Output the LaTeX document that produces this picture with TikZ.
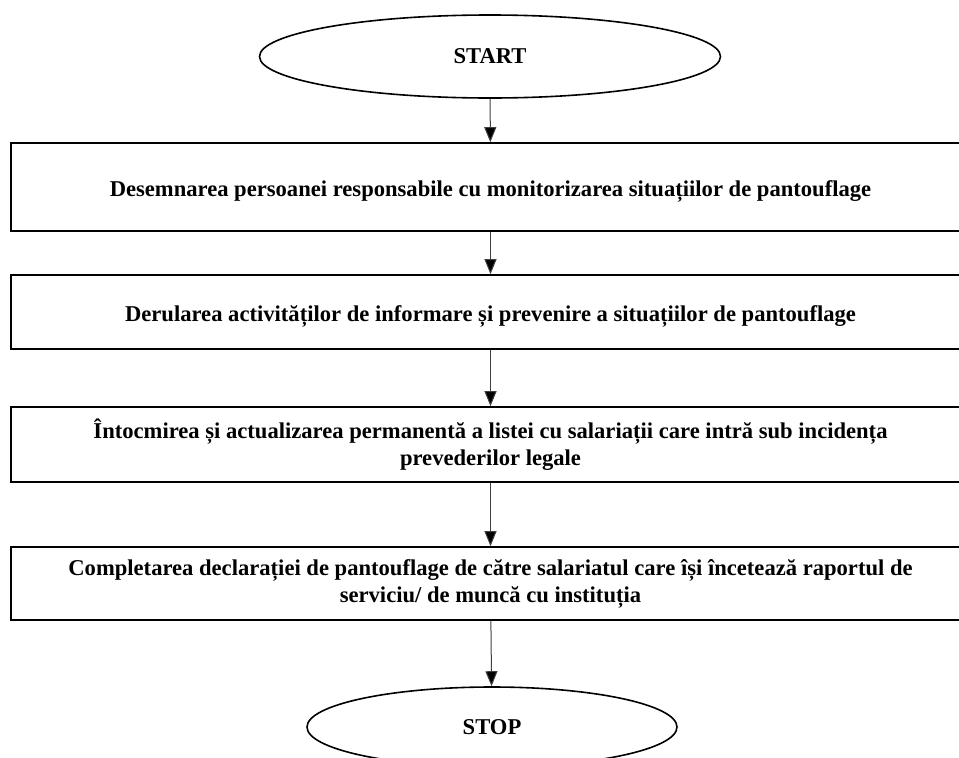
\documentclass[tikz,border=0pt]{standalone}
\usepackage{fontspec}
\setmainfont{Liberation Serif}
\usetikzlibrary{shapes.geometric,arrows.meta}

\tikzset{
    terminal/.style={draw, ellipse, line width=1.6pt, inner sep=0pt},
    stepbox/.style={draw, rectangle, line width=1.6pt, minimum width=959pt,
        align=center, inner sep=0pt, execute at begin node={\rule{0pt}{25pt}}},
    flow/.style={line width=1pt, draw=black!75,
        -{Triangle[width=12pt,length=15pt,fill=black]}}
}

\begin{document}
\begin{tikzpicture}[x=1pt, y=-1pt,
    every node/.style={font=\fontsize{22.6}{27}\selectfont\bfseries}]

    % Fix the frame of the picture
    \useasboundingbox (0,0) rectangle (959,758);
    \clip (0,0) rectangle (959,758);

    % Define the centres of the shapes
    \coordinate (S) at (490,56.5);
    \coordinate (A) at (490.5,187);
    \coordinate (B) at (490.5,312);
    \coordinate (C) at (490.5,444.5);
    \coordinate (D) at (490.5,583.5);
    \coordinate (E) at (492,727);

    % The start ellipse
    \node[terminal, minimum width=461pt, minimum height=83pt] (start) at (S) {START};

    % The four steps
    \node[stepbox, minimum height=88pt] (step1) at (A)
        {Desemnarea persoanei responsabile cu monitorizarea situațiilor de pantouflage};
    \node[stepbox, minimum height=74pt] (step2) at (B)
        {Derularea activităților de informare și prevenire a situațiilor de pantouflage};
    \node[stepbox, minimum height=75pt] (step3) at (C)
        {Întocmirea și actualizarea permanentă a listei cu salariații care intră sub incidența\\
         prevederilor legale};
    \node[stepbox, minimum height=73pt] (step4) at (D)
        {Completarea declarației de pantouflage de către salariatul care își încetează raportul de\\
         serviciu/ de muncă cu instituția};

    % The stop ellipse
    \node[terminal, minimum width=370pt, minimum height=80pt] (stop) at (E) {STOP};

    % Draw the arrows between the shapes
    \draw[flow] (start) -- (step1);
    \draw[flow] (step1) -- (step2);
    \draw[flow] (step2) -- (step3);
    \draw[flow] (step3) -- (step4);
    \draw[flow] (step4) -- (stop);

\end{tikzpicture}
\end{document}
